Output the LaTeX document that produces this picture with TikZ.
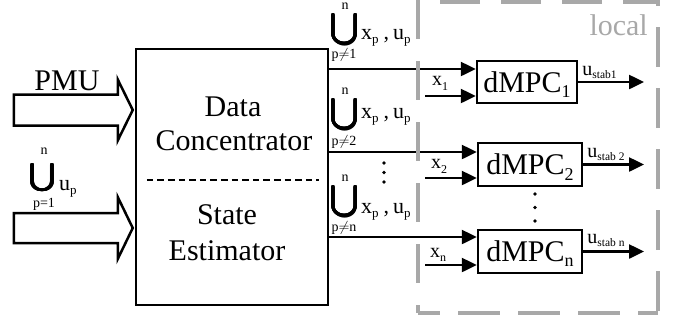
\documentclass[tikz,border=0pt]{standalone}
\usepackage{fontspec}
\setmainfont{Liberation Serif}
\usepackage{amsmath}
\usepackage{graphicx}
\usepackage{contour}
\usetikzlibrary{arrows.meta}
\definecolor{framegray}{HTML}{A8A8A8}
\newcommand\fs[1]{\fontsize{#1}{#1}\selectfont}
% lowered small text: amount, size, text
\newcommand\sbx[3]{\raisebox{-#1}{\fs{#2}#3}}
\contourlength{0.7pt}
% heavy n-ary union of given width and total height
\newcommand\bigU[2]{\contour[12]{black}{\resizebox*{#1}{#2}{$\displaystyle\bigcup$}}}
\begin{document}
\begin{tikzpicture}[x=1pt,y=-1pt,
  blk/.style={draw, line width=2.5pt, inner sep=0pt},
  conn/.style={line width=2.5pt, -{Triangle[length=15pt,width=14pt]}},
  hollow/.style={draw, line width=2.5pt, line join=miter},
  big/.style={font=\fs{30}, inner sep=0pt},
  lbl/.style={font=\fs{22}, inner sep=0pt, anchor=base west},
  lim/.style={font=\fs{14}, inner sep=0pt},
  usym/.style={inner sep=0pt},
  xin/.style={font=\fs{20}, inner sep=0pt, anchor=base west},
  ulab/.style={font=\fs{20}, inner sep=0pt, anchor=base west},
  dot/.style={fill, circle, inner sep=0pt, minimum size=3.6pt},
  mpc/.style={blk, font=\fs{30}, text height=20pt, text depth=0pt},
  frame/.style={draw=framegray, line width=4pt}]
\useasboundingbox (0,0) rectangle (680,325);

% data concentrator / state estimator block
\node[blk, minimum width=192pt, minimum height=256pt] (dc) at (232,177) {};
\node[big, anchor=base] (t1) at (233,116) {Data};
\node[big, anchor=base] (t2) at (234,150) {Concentrator};
\node[big, anchor=base] (t3) at (227,224) {State};
\node[big, anchor=base] (t4) at (227,260) {Estimator};
\draw[line width=2pt, dash pattern=on 6.6pt off 4pt]
  ([xshift=12pt]dc.west |- 0,180) -- ([xshift=-10pt]dc.east |- 0,180);

% hollow input arrows
\coordinate (pmutip) at ([xshift=-2pt]dc.west |- 0,110);
\draw[hollow] (pmutip) -- ++(-15,-30.5) -- ++(0,15) -- ++(-104,0)
  -- ++(0,31) -- ++(104,0) -- ++(0,15) -- cycle;
\node[big, anchor=base] (pmu) at (67,90) {PMU};

\coordinate (uptip) at ([xshift=-2pt]dc.west |- 0,228);
\draw[hollow] (uptip) -- ++(-15,-31) -- ++(0,16) -- ++(-104,0)
  -- ++(0,30) -- ++(104,0) -- ++(0,16) -- cycle;
\node[usym] (u0) at (42.5,178) {\bigU{24pt}{31pt}};
\node[lim] (u0n) at (44,151) {n};
\node[lim] (u0p) at (44,204) {p=1};
\node[lbl] (u0b) at (59,190) {u\sbx{4pt}{13}{p}};

% distributed controllers
\node[mpc, minimum width=100pt, minimum height=42pt] (m1) at (527,82) {dMPC\sbx{5pt}{18}{1}};
\node[mpc, minimum width=104pt, minimum height=43pt] (m2) at (530,164.5) {dMPC\sbx{6pt}{18}{2}};
\node[mpc, minimum width=104pt, minimum height=43pt] (m3) at (530,251.5) {dMPC\sbx{5pt}{18}{n}};

\coordinate (m1a) at (m1.west |- 0,69);
\coordinate (m2a) at (m2.west |- 0,152);
\coordinate (m3a) at (m3.west |- 0,237);
\coordinate (m1x) at (m1.west |- 0,96);
\coordinate (m2x) at (m2.west |- 0,178);
\coordinate (m3x) at (m3.west |- 0,265);
\coordinate (xs) at (425,0);
\coordinate (oe) at (644,0);

\draw[conn] (dc.east |- m1a) -- (m1a);
\draw[conn] (dc.east |- m2a) -- (m2a);
\draw[conn] (dc.east |- m3a) -- (m3a);
\draw[conn] (xs |- m1x) -- (m1x);
\draw[conn] (xs |- m2x) -- (m2x);
\draw[conn] (xs |- m3x) -- (m3x);
\draw[conn] (m1.east) -- (m1.east -| oe);
\draw[conn] (m2.east) -- (m2.east -| oe);
\draw[conn] (m3.east) -- (m3.east -| oe);

\node[xin] (x1) at (432,85) {x\sbx{5pt}{12}{1}};
\node[xin] (x2) at (431,168) {x\sbx{5pt}{12}{2}};
\node[xin] (x3) at (430,257) {x\sbx{4pt}{12}{n}};

\node[ulab] (o1) at ([xshift=4pt]m1.east |- 0,75) {u\sbx{3pt}{11.5}{stab1}};
\node[ulab] (o2) at ([xshift=4pt]m2.east |- 0,157) {u\sbx{3pt}{11.5}{stab 2}};
\node[ulab] (o3) at ([xshift=4pt]m3.east |- 0,243) {u\sbx{3pt}{11.5}{stab n}};

% exchanged neighbour data
\node[usym] (u1) at (344.5,30) {\bigU{27pt}{35pt}};
\node[lim] (u1n) at (345,6.5) {n};
\node[lim] (u1p) at (344,55) {p$\neq$1};
\node[lbl] (u1b) at (361,39) {x\sbx{4pt}{13}{p}\hspace{5pt},\hspace{4pt}u\sbx{4pt}{13}{p}};
\node[usym] (u2) at (344.5,115) {\bigU{27pt}{35pt}};
\node[lim] (u2n) at (345,91) {n};
\node[lim] (u2p) at (344,142) {p$\neq$2};
\node[lbl] (u2b) at (361,118) {x\sbx{4pt}{13}{p}\hspace{5pt},\hspace{4pt}u\sbx{4pt}{13}{p}};
\node[usym] (u3) at (344.5,202) {\bigU{27pt}{35pt}};
\node[lim] (u3n) at (345,178) {n};
\node[lim] (u3p) at (344,228) {p$\neq$n};
\node[lbl] (u3b) at (361,213) {x\sbx{4pt}{13}{p}\hspace{5pt},\hspace{4pt}u\sbx{4pt}{13}{p}};

% vertical ellipses
\node[dot] (d1) at (384,163) {};
\node[dot] (d2) at (384,172.5) {};
\node[dot] (d3) at (384,182) {};
\node[dot] (d4) at (535,194) {};
\node[dot] (d5) at (535,207.5) {};
\node[dot] (d6) at (535,221) {};

% local region
\draw[frame, dash pattern=on 39pt off 22pt] (418,0) -- (418,313);
\draw[frame, dash pattern=on 42pt off 18pt, dash phase=20pt] (418,313) -- (658,313);
\draw[frame, dash pattern=on 40pt off 21pt, dash phase=59pt] (658,313) -- (658,0);
\draw[frame, dash pattern=on 40pt off 21pt, dash phase=5pt] (658,2) -- (418,2);
\node[font=\fs{30}, text=framegray, inner sep=0pt, anchor=base east] (loc) at (648,35) {local};
\end{tikzpicture}
\end{document}
